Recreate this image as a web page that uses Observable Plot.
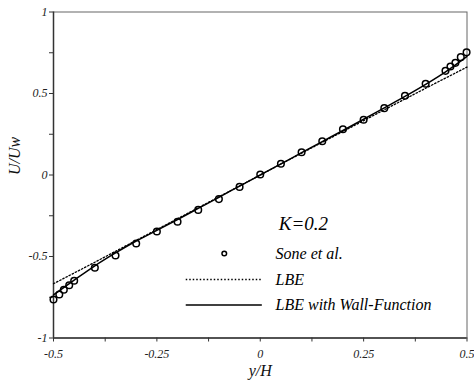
<!DOCTYPE html>
<html>
<head>
<meta charset="utf-8">
<script src="https://cdn.jsdelivr.net/npm/d3@7"></script>
<script src="https://cdn.jsdelivr.net/npm/@observablehq/plot@0.6"></script>
<style>
  html, body { margin: 0; padding: 0; background: #fff; }
  svg { display: block; }
  svg text { font-family: "Liberation Serif", serif !important; font-style: italic; }
</style>
</head>
<body>
<div id="chart"></div>
<script>
// Sone et al. (symbols)
const soneX = [-0.5, -0.486, -0.475, -0.462, -0.45, -0.4, -0.35, -0.3, -0.25, -0.2, -0.15, -0.1, -0.05, 0,
               0.05, 0.1, 0.15, 0.2, 0.25, 0.3, 0.35, 0.4, 0.448, 0.46, 0.472, 0.485, 0.499];
const soneY = [-0.764, -0.733, -0.704, -0.676, -0.649, -0.569, -0.494, -0.420, -0.347, -0.287, -0.214, -0.148, -0.073, 0.003,
               0.069, 0.140, 0.207, 0.281, 0.339, 0.410, 0.486, 0.560, 0.639, 0.666, 0.688, 0.723, 0.753];
// LBE (dotted)
const lbeX = [-0.5, -0.4, -0.3, -0.2, -0.1, 0, 0.1, 0.2, 0.3, 0.4, 0.5];
const lbeY = [-0.667, -0.535, -0.401, -0.268, -0.134, 0, 0.134, 0.267, 0.400, 0.532, 0.662];
// LBE with Wall-Function (solid)
const wfX = [-0.5, -0.45, -0.4, -0.35, -0.3, -0.25, -0.2, -0.15, -0.1, -0.05, 0, 0.05, 0.1, 0.15, 0.2, 0.25, 0.3, 0.35, 0.4, 0.45, 0.5];
const wfY = [-0.735, -0.645, -0.557, -0.478, -0.405, -0.340, -0.273, -0.205, -0.137, -0.068, 0, 0.068, 0.137, 0.205, 0.273, 0.342, 0.412, 0.482, 0.556, 0.636, 0.728];

const xTicks = [-0.5, -0.375, -0.25, -0.125, 0, 0.125, 0.25, 0.375, 0.5];
const xTickLabels = ["-0.5", "", "-0.25", "", "0", "", "0.25", "", "0.5"];
const yTicks = [-1, -0.75, -0.5, -0.25, 0, 0.25, 0.5, 0.75, 1];
const yTickLabels = ["-1", "", "-0.5", "", "0", "", "0.5", "", "1"];

const legendLabels = ["Sone et al.", "LBE", "LBE with Wall-Function"];
const annotation = "K=0.2";

// layout (data-space anchors for legend)
const legX0 = -0.179, legX1 = 0.005, legMarkX = -0.087, legTextX = 0.037;
const legRowY = [-0.482, -0.641, -0.797];

const sone = soneX.map((x, i) => ({x, y: soneY[i]}));
const lbe = lbeX.map((x, i) => ({x, y: lbeY[i]}));
const wf = wfX.map((x, i) => ({x, y: wfY[i]}));

const font = "Liberation Serif";

const chart = Plot.plot({
  width: 474,
  height: 381,
  marginLeft: 53,
  marginRight: 7.5,
  marginTop: 11.5,
  marginBottom: 43.5,
  style: {fontFamily: font, fontStyle: "italic", fontSize: "12px", color: "#222", background: "#fff"},
  x: {domain: [-0.5, 0.5]},
  y: {domain: [-1, 1]},
  marks: [
    Plot.frame({stroke: "#666", strokeWidth: 1}),
    Plot.axisX({ticks: xTicks, tickFormat: (d) => xTickLabels[xTicks.indexOf(d)], tickSize: 4, tickPadding: 7,
      fontSize: 12, label: null, stroke: "#333", fill: "#222"}),
    Plot.axisY({ticks: yTicks, tickFormat: (d) => yTickLabels[yTicks.indexOf(d)], tickSize: 4, tickPadding: 2,
      fontSize: 12, label: null, stroke: "#333", fill: "#222"}),
    Plot.ruleY([-1], {stroke: "#333", strokeWidth: 1.5}),
    Plot.ruleX([-0.5], {stroke: "#333", strokeWidth: 1.5}),
    Plot.text(["y/H"], {frameAnchor: "bottom", lineAnchor: "middle", dy: 33, fontSize: 16, fill: "#111"}),
    Plot.text(["U/Uw"], {frameAnchor: "left", dx: -39, rotate: -90, fontSize: 16, fill: "#111"}),
    Plot.line(lbe, {x: "x", y: "y", stroke: "#000", strokeWidth: 1.3, strokeDasharray: "1.5,2", curve: "monotone-x"}),
    Plot.line(wf, {x: "x", y: "y", stroke: "#000", strokeWidth: 1.5, curve: "monotone-x"}),
    Plot.dot(sone, {x: "x", y: "y", r: 3.3, stroke: "#000", strokeWidth: 1.5, fill: "none"}),
    // annotation & legend
    Plot.text([annotation], {x: [legTextX + 0.008], y: [-0.3], textAnchor: "start", fontSize: 19, fill: "#000"}),
    Plot.dot([0], {x: [legMarkX], y: [legRowY[0]], r: 2.3, stroke: "#000", strokeWidth: 1.5, fill: "none"}),
    Plot.ruleY([0], {x1: legX0, x2: legX1, y: legRowY[1], stroke: "#000", strokeWidth: 1.3, strokeDasharray: "1.5,2"}),
    Plot.ruleY([0], {x1: legX0, x2: legX1, y: legRowY[2], stroke: "#000", strokeWidth: 1.5}),
    Plot.text(legendLabels, {x: legTextX, y: (d, i) => legRowY[i], textAnchor: "start", fontSize: 16, fill: "#000"})
  ]
});
document.getElementById("chart").appendChild(chart);
</script>
</body>
</html>
